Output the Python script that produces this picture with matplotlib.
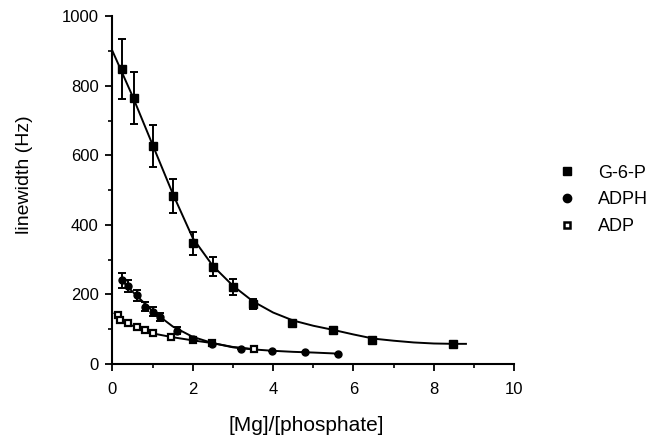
import matplotlib
matplotlib.use("Agg")
import matplotlib.pyplot as plt
from matplotlib.ticker import MultipleLocator
from matplotlib.lines import Line2D

plt.rcParams['font.family'] = ['Liberation Sans', 'DejaVu Sans']

# G-6-P data
g6p_x = [0.24, 0.54, 1.02, 1.50, 2.01, 2.51, 3.00, 3.50, 4.47, 5.49, 6.47, 8.49]
g6p_y = [848, 765, 627, 483, 347, 280, 222, 172, 119, 99, 69, 57]
g6p_err = [85, 75, 61, 50, 33, 27, 23, 15, 8, 6, 5, 5]
g6p_curve_x = [0, 0.5, 1, 1.5, 2, 2.5, 3, 3.5, 4, 4.5, 5, 5.5, 6, 6.5, 7, 7.5, 8, 8.5, 8.8]
g6p_curve_y = [900, 770, 630, 490, 362, 282, 225, 180, 148, 125, 110, 98, 85, 73, 67, 62, 59, 58, 58]

# ADPH data
adph_x = [0.23, 0.39, 0.60, 0.81, 1.01, 1.18, 1.60, 2.01, 2.47, 3.20, 3.98, 4.79, 5.62]
adph_y = [241, 224, 198, 165, 150, 136, 96, 72, 57, 44, 38, 34, 30]
adph_err = [22, 18, 16, 14, 13, 12, 10, 6, 5, 0, 0, 0, 0]
adph_curve_x = [0.2, 0.5, 1.0, 1.5, 2.0, 2.5, 3.0, 3.5, 4.0, 4.5, 5.0, 5.6]
adph_curve_y = [244, 208, 152, 108, 78, 60, 48, 42, 38, 35, 33, 30]

# ADP data
adp_x = [0.13, 0.19, 0.39, 0.60, 0.81, 1.01, 1.47, 2.01, 2.47, 3.52]
adp_y = [141, 126, 117, 107, 98, 88, 78, 69, 60, 43]
adp_curve_x = [0.05, 0.2, 0.5, 1.0, 1.5, 2.0, 2.5, 3.0, 3.5]
adp_curve_y = [146, 128, 110, 88, 77, 68, 60, 49, 43]

series_labels = ['G-6-P', 'ADPH', 'ADP']

fig = plt.figure(figsize=(6.5, 4.37), dpi=100)
ax = fig.add_axes([0.173, 0.167, 0.618, 0.796])

ax.plot(g6p_curve_x, g6p_curve_y, color='black', lw=1.4)
ax.plot(adph_curve_x, adph_curve_y, color='black', lw=1.4)
ax.plot(adp_curve_x, adp_curve_y, color='black', lw=1.4)

ax.errorbar(g6p_x, g6p_y, yerr=g6p_err, fmt='s', color='black', ms=6,
            elinewidth=1.4, capsize=3, capthick=1.4)
ax.errorbar(adph_x, adph_y, yerr=adph_err, fmt='o', color='black', ms=5,
            elinewidth=1.4, capsize=3, capthick=1.4)
ax.plot(adp_x, adp_y, 's', color='black', ms=5, mfc='white', mew=1.6, ls='none')

ax.set_xlim(0, 10)
ax.set_ylim(0, 1000)
ax.xaxis.set_major_locator(MultipleLocator(2))
ax.xaxis.set_minor_locator(MultipleLocator(1))
ax.yaxis.set_major_locator(MultipleLocator(200))
ax.yaxis.set_minor_locator(MultipleLocator(100))
for s in ['top', 'right']:
    ax.spines[s].set_visible(False)
for s in ['left', 'bottom']:
    ax.spines[s].set_linewidth(1.5)
ax.tick_params(which='major', direction='out', length=5, width=1.3, labelsize=12)
ax.tick_params(which='minor', direction='out', length=3, width=1.2)
ax.tick_params(axis='x', pad=8)
ax.tick_params(axis='y', pad=5)

ax.set_xlabel('[Mg]/[phosphate]', fontsize=15)
ax.set_ylabel('linewidth (Hz)', fontsize=14)
ax.xaxis.label.set_va('center')
ax.yaxis.label.set_va('center')
ax.xaxis.set_label_coords(0.483, -0.178)
ax.yaxis.set_label_coords(-0.22, 0.545)

handles = [
    Line2D([], [], marker='s', color='black', ls='none', ms=6),
    Line2D([], [], marker='o', color='black', ls='none', ms=6),
    Line2D([], [], marker='s', color='black', mfc='white', mew=1.8, ls='none', ms=5),
]
fig.legend(handles, series_labels, loc='upper left', bbox_to_anchor=(0.85, 0.64),
           frameon=False, fontsize=13, handlelength=0.8, handletextpad=1.3,
           labelspacing=0.55, borderaxespad=0)

fig.savefig('out.png', dpi=100)
